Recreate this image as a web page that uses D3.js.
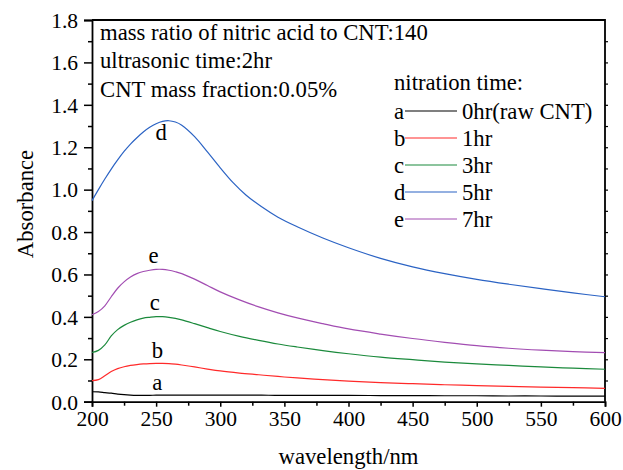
<!DOCTYPE html>
<meta charset="utf-8">
<title>Absorbance vs wavelength</title>
<body style="margin:0;background:#fff">
<style>
  svg text { font-family: "Liberation Serif", "Times New Roman", serif; fill: #000; }
  .axis path, .axis line { stroke: #000; }
</style>
<div id="chart"></div>
<script src="https://d3js.org/d3.v7.min.js"></script>
<script>

// wavelength (nm) shared by every curve
var wavelength = [200, 205, 210, 215, 220, 225, 230, 235, 240, 245, 250, 255, 260, 265, 270,
                  280, 290, 300, 315, 330, 345, 360, 380, 400, 425, 450, 475, 500, 525, 550, 575, 600];

// absorbance
var absA = [0.047, 0.046, 0.043, 0.040, 0.036, 0.033, 0.031, 0.030, 0.030, 0.030, 0.031, 0.031, 0.031, 0.031, 0.031,
            0.031, 0.031, 0.031, 0.031, 0.031, 0.030, 0.030, 0.030, 0.030, 0.029, 0.029, 0.028, 0.028, 0.027, 0.027, 0.026, 0.026];
var absB = [0.099, 0.104, 0.122, 0.142, 0.156, 0.165, 0.171, 0.175, 0.178, 0.180, 0.181, 0.181, 0.180, 0.177, 0.173,
            0.164, 0.154, 0.145, 0.135, 0.127, 0.119, 0.112, 0.104, 0.097, 0.090, 0.085, 0.080, 0.076, 0.072, 0.069, 0.066, 0.063];
var absC = [0.232, 0.242, 0.268, 0.310, 0.340, 0.360, 0.375, 0.386, 0.394, 0.398, 0.401, 0.401, 0.398, 0.393, 0.386,
            0.368, 0.349, 0.331, 0.308, 0.289, 0.272, 0.258, 0.241, 0.226, 0.210, 0.198, 0.187, 0.178, 0.171, 0.164, 0.158, 0.153];
var absD = [0.948, 1.000, 1.050, 1.097, 1.140, 1.180, 1.215, 1.245, 1.272, 1.294, 1.311, 1.322, 1.325, 1.319, 1.304,
            1.250, 1.178, 1.103, 1.033, 0.975, 0.920, 0.870, 0.825, 0.772, 0.726, 0.676, 0.636, 0.604, 0.577, 0.554, 0.533, 0.513, 0.495];
var absE = [0.410, 0.425, 0.452, 0.495, 0.535, 0.565, 0.588, 0.604, 0.614, 0.620, 0.624, 0.624, 0.620, 0.613, 0.604,
            0.578, 0.548, 0.518, 0.480, 0.447, 0.419, 0.395, 0.368, 0.343, 0.319, 0.298, 0.280, 0.264, 0.252, 0.243, 0.236, 0.231];

// the blue curve is sampled a little finer past its peak
var wavelengthD = [200, 205, 210, 215, 220, 225, 230, 235, 240, 245, 250, 255, 260, 265, 270,
                   280, 290, 300, 310, 320, 332, 345, 360, 380, 400, 425, 450, 475, 500, 525, 550, 575, 600];

var letters = ["a", "b", "c", "d", "e"];
var legendLabels = ["0hr(raw CNT)", "1hr", "3hr", "5hr", "7hr"];
var colors = ["#000000", "#ff2a2a", "#1b8a3c", "#2b63c4", "#a24db2"];
var series = [
  { nm: wavelength,  abs: absA },
  { nm: wavelength,  abs: absB },
  { nm: wavelength,  abs: absC },
  { nm: wavelengthD, abs: absD },
  { nm: wavelength,  abs: absE }
];

// where the letter sits on each curve (wavelength, absorbance)
var letterNm = [251, 251, 249, 254, 248];
var letterAbs = [0.055, 0.205, 0.432, 1.234, 0.653];

var notes = ["mass ratio of nitric acid to CNT:140", "ultrasonic time:2hr", "CNT mass fraction:0.05%"];

var xTicks = [200, 250, 300, 350, 400, 450, 500, 550, 600];
var yTicks = [0, 0.2, 0.4, 0.6, 0.8, 1.0, 1.2, 1.4, 1.6, 1.8];

var W = 623, H = 470;
var plotL = 92, plotR = 605, plotT = 20, plotB = 401.7;
var fs = "22.7px";

var svg = d3.select("#chart").append("svg")
  .attr("width", W).attr("height", H);

var x = d3.scaleLinear().domain([200, 600]).range([plotL, plotR]);
var y = d3.scaleLinear().domain([0, 1.8]).range([plotB, plotT]);

// minor ticks
svg.append("g").attr("class", "axis").attr("transform", "translate(" + plotL + ",0)")
  .call(d3.axisLeft(y).tickValues(d3.range(0.1, 1.8, 0.2)).tickSize(4).tickFormat(""))
  .call(function(g) { g.select(".domain").remove(); })
  .selectAll("line").attr("stroke-width", 1.5);
svg.append("g").attr("class", "axis").attr("transform", "translate(0," + plotB + ")")
  .call(d3.axisBottom(x).tickValues(d3.range(225, 600, 50)).tickSize(4).tickFormat(""))
  .call(function(g) { g.select(".domain").remove(); })
  .selectAll("line").attr("stroke-width", 1.5);
svg.append("g").attr("class", "axis").attr("transform", "translate(" + plotR + ",0)")
  .call(d3.axisRight(y).tickValues(d3.range(0.1, 1.8, 0.1)).tickSize(3).tickFormat(""))
  .call(function(g) { g.select(".domain").remove(); })
  .selectAll("line").attr("stroke-width", 1.2);

// main axes
var yAxis = svg.append("g").attr("class", "axis").attr("transform", "translate(" + plotL + ",0)")
  .call(d3.axisLeft(y).tickValues(yTicks).tickSize(8).tickPadding(6).tickFormat(d3.format(".1f")));
yAxis.selectAll("text").style("font-size", "21.5px").attr("dy", "0.34em");
yAxis.selectAll("line").attr("stroke-width", 1.5);
yAxis.select(".domain").attr("stroke-width", 1.8);

var xAxis = svg.append("g").attr("class", "axis").attr("transform", "translate(0," + plotB + ")")
  .call(d3.axisBottom(x).tickValues(xTicks).tickSize(5).tickPadding(4));
xAxis.selectAll("text").style("font-size", "21.5px");
xAxis.selectAll("line").attr("stroke-width", 1.5);
xAxis.select(".domain").attr("stroke-width", 1.8);

// top and right frame
svg.append("path")
  .attr("d", "M" + plotL + "," + plotT + "H" + plotR + "V" + plotB)
  .attr("fill", "none").attr("stroke", "#000").attr("stroke-width", 1.8);

// curves
var line = d3.line()
  .x(function(d) { return x(d[0]); })
  .y(function(d) { return y(d[1]); })
  .curve(d3.curveCatmullRom.alpha(0.5));

svg.append("g").selectAll("path")
  .data(series)
  .enter().append("path")
    .attr("d", function(s) { return line(d3.zip(s.nm, s.abs)); })
    .attr("fill", "none")
    .attr("stroke", function(d, i) { return colors[i]; })
    .attr("stroke-width", 1.2);

// letters on curves
svg.append("g").selectAll("text")
  .data(letters)
  .enter().append("text")
    .attr("x", function(d, i) { return x(letterNm[i]); })
    .attr("y", function(d, i) { return y(letterAbs[i]); })
    .attr("text-anchor", "middle")
    .style("font-size", fs)
    .text(function(d) { return d; });

// condition notes
svg.append("g").selectAll("text")
  .data(notes)
  .enter().append("text")
    .attr("x", 100)
    .attr("y", function(d, i) { return 39.5 + i * 28.7; })
    .style("font-size", fs)
    .text(function(d) { return d; });

// legend
var legend = svg.append("g").attr("transform", "translate(394,0)");
legend.append("text").attr("x", 0).attr("y", 90).style("font-size", fs).text("nitration time:");
var rows = legend.selectAll("g.row")
  .data(letters)
  .enter().append("g")
    .attr("class", "row")
    .attr("transform", function(d, i) { return "translate(0," + (118.5 + i * 27) + ")"; });
rows.append("text").style("font-size", fs).text(function(d) { return d; });
rows.append("line")
  .attr("x1", 11).attr("x2", 63).attr("y1", -7.5).attr("y2", -7.5)
  .attr("stroke", function(d, i) { return colors[i]; })
  .attr("stroke-width", 1.2);
rows.append("text").attr("x", 68).style("font-size", fs)
  .text(function(d, i) { return legendLabels[i]; });

// axis titles
svg.append("text")
  .attr("x", (plotL + plotR) / 2).attr("y", 464)
  .attr("text-anchor", "middle").style("font-size", fs)
  .text("wavelength/nm");
svg.append("text")
  .attr("transform", "translate(33,204) rotate(-90)")
  .attr("text-anchor", "middle").style("font-size", fs)
  .text("Absorbance");

</script>
